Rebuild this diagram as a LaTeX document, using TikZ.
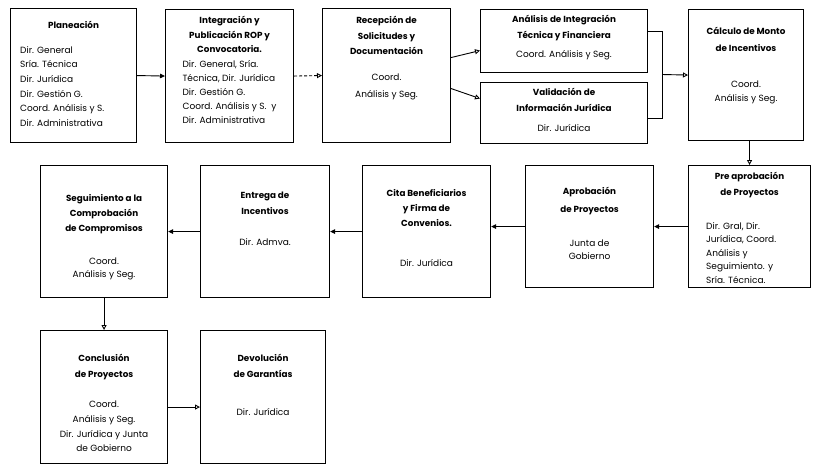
\documentclass[tikz,border=0pt]{standalone}
\usepackage{fontspec}
\setmainfont{Poppins}
\usetikzlibrary{positioning,arrows.meta}
\tikzset{
	caja/.style={draw, line width=1.1pt, inner sep=0pt, anchor=north west},
	titulo/.style={font=\bfseries\fontsize{8.8}{15.5}\selectfont, align=center, inner sep=0pt, anchor=north, execute at begin node=\strut},
	texto/.style={font=\fontsize{9}{14}\selectfont, align=center, inner sep=0pt, anchor=north, execute at begin node=\strut},
	flecha/.style={line width=0.9pt, -{Triangle[open,length=5pt,width=5pt]}},
	flechar/.style={line width=0.9pt, -{Triangle[length=5pt,width=4.5pt]}},
}
\begin{document}
\begin{tikzpicture}[x=1pt,y=-1pt]
	\useasboundingbox (0,0) rectangle (813,469);
	\node[caja, minimum width=126pt, minimum height=134pt] (plan) at (10,8) {};
	\node[caja, minimum width=128pt, minimum height=133pt] (integ) at (165,9) {};
	\node[caja, minimum width=128pt, minimum height=134pt] (recep) at (322,8) {};
	\node[caja, minimum width=167pt, minimum height=63pt] (anal) at (480,9) {};
	\node[caja, minimum width=167pt, minimum height=61pt] (valid) at (480,82) {};
	\node[caja, minimum width=115pt, minimum height=131pt] (calc) at (688,9) {};
	\node[caja, minimum width=122pt, minimum height=122pt] (pre) at (688,165) {};
	\node[caja, minimum width=128pt, minimum height=122pt] (aprob) at (525,165) {};
	\node[caja, minimum width=128pt, minimum height=132pt] (cita) at (362,165) {};
	\node[caja, minimum width=129pt, minimum height=132pt] (entr) at (200,165) {};
	\node[caja, minimum width=127pt, minimum height=132pt] (seg) at (40,165) {};
	\node[caja, minimum width=127pt, minimum height=133pt] (concl) at (40,330) {};
	\node[caja, minimum width=125pt, minimum height=133pt] (devol) at (200,330) {};

	\node[titulo] (plan-t) at ([shift={(0,9)}]plan.north) {Planeación};
	\node[texto, anchor=north west, align=left, font=\fontsize{9}{14.7}\selectfont] (plan-c) at ([shift={(10,38)}]plan.north west) {Dir. General\\Sría. Técnica\\Dir. Jurídica\\Dir. Gestión G.\\Coord. Análisis y S.\\Dir. Administrativa};
	\node[titulo, font=\bfseries\fontsize{8.8}{14.5}\selectfont] (integ-t) at ([shift={(0,7)}]integ.north) {Integración y\\Publicación ROP y\\Convocatoria.};
	\node[texto, align=left] (integ-c) at ([shift={(0,51)}]integ.north) {Dir. General, Sría.\\Técnica, Dir. Jurídica\\Dir. Gestión G.\\Coord. Análisis y S.\ \ y\\Dir. Administrativa};
	\node[titulo] (recep-t) at ([shift={(0,8)}]recep.north) {Recepción de\\Solicitudes y\\Documentación};
	\node[texto] (recep-c) at ([shift={(0,66)}]recep.north) {Coord.\\[3pt]Análisis y Seg.};
	\node[titulo] (anal-t) at ([shift={(0,6)}]anal.north) {Análisis de Integración\\Técnica y Financiera};
	\node[texto] (anal-c) at ([shift={(0,38)}]anal.north) {Coord. Análisis y Seg.};
	\node[titulo, font=\bfseries\fontsize{8.8}{16}\selectfont] (valid-t) at ([shift={(0,6)}]valid.north) {Validación de\\Información Jurídica};
	\node[texto] (valid-c) at ([shift={(0,39)}]valid.north) {Dir. Jurídica};
	\node[titulo, font=\bfseries\fontsize{8.8}{17}\selectfont] (calc-t) at ([shift={(0,18)}]calc.north) {Cálculo de Monto\\de Incentivos};
	\node[texto] (calc-c) at ([shift={(0,72)}]calc.north) {Coord.\\Análisis y Seg.};

	\node[titulo, font=\bfseries\fontsize{8.8}{16}\selectfont] (pre-t) at ([shift={(0,7)}]pre.north) {Pre aprobación\\de Proyectos};
	\node[texto, anchor=north west, align=left, font=\fontsize{9}{13.5}\selectfont] (pre-c) at ([shift={(18,57)}]pre.north west) {Dir. Gral, Dir.\\Jurídica, Coord.\\Análisis y\\Seguimiento. y\\Sría. Técnica.};
	\node[titulo, font=\bfseries\fontsize{8.8}{18}\selectfont] (aprob-t) at ([shift={(0,22)}]aprob.north) {Aprobación\\de Proyectos};
	\node[texto, font=\fontsize{9}{13}\selectfont] (aprob-c) at ([shift={(0,75)}]aprob.north) {Junta de\\Gobierno};
	\node[titulo, font=\bfseries\fontsize{8.8}{15}\selectfont] (cita-t) at ([shift={(0,24)}]cita.north) {Cita Beneficiarios\\y Firma de\\Convenios.};
	\node[texto] (cita-c) at ([shift={(0,91)}]cita.north) {Dir. Jurídica};
	\node[titulo, font=\bfseries\fontsize{8.8}{16}\selectfont] (entr-t) at ([shift={(0,27)}]entr.north) {Entrega de\\Incentivos};
	\node[texto] (entr-c) at ([shift={(0,70)}]entr.north) {Dir. Admva.};
	\node[titulo, font=\bfseries\fontsize{8.8}{15}\selectfont] (seg-t) at ([shift={(0,29)}]seg.north) {Seguimiento a la\\Comprobación\\de Compromisos};
	\node[texto, font=\fontsize{9}{13}\selectfont] (seg-c) at ([shift={(0,93)}]seg.north) {Coord.\\Análisis y Seg.};

	\node[titulo, font=\bfseries\fontsize{8.8}{16}\selectfont] (concl-t) at ([shift={(0,24)}]concl.north) {Conclusión\\de Proyectos};
	\node[texto, font=\fontsize{9}{14.7}\selectfont] (concl-c) at ([shift={(0,71)}]concl.north) {Coord.\\Análisis y Seg.\\Dir. Jurídica y Junta\\de Gobierno};
	\node[titulo, font=\bfseries\fontsize{8.8}{16}\selectfont] (devol-t) at ([shift={(0,24)}]devol.north) {Devolución\\de Garantías};
	\node[texto] (devol-c) at ([shift={(0,75)}]devol.north) {Dir. Jurídica};

	\coordinate (union) at (662,74.5);
	\draw[flechar] (plan.east) -- (integ.west);
	\draw[flecha, densely dashed] (integ.east) -- (recep.west);
	\draw[flecha] ([yshift=18pt]recep.east) -- ([yshift=-9.5pt]anal.west);
	\draw[flecha] ([yshift=-13pt]recep.east) -- ([yshift=14.5pt]valid.west);
	\draw[line width=0.9pt] ([yshift=9.5pt]anal.east) -| (union) |- ([yshift=-5.5pt]valid.east);
	\draw[flecha] (union) -- (calc.west);
	\draw[flecha] (calc.south -| pre.north) -- (pre.north);
	\foreach \a/\b in {pre/aprob, aprob/cita, cita/entr, entr/seg}
		\draw[flechar] (\a.west) -- (\a.west -| \b.east);
	\draw[flecha] (seg.south) -- (concl.north);
	\draw[flecha] ([yshift=-10pt]concl.east) -- ([yshift=-10pt]concl.east -| devol.west);
\end{tikzpicture}
\end{document}
